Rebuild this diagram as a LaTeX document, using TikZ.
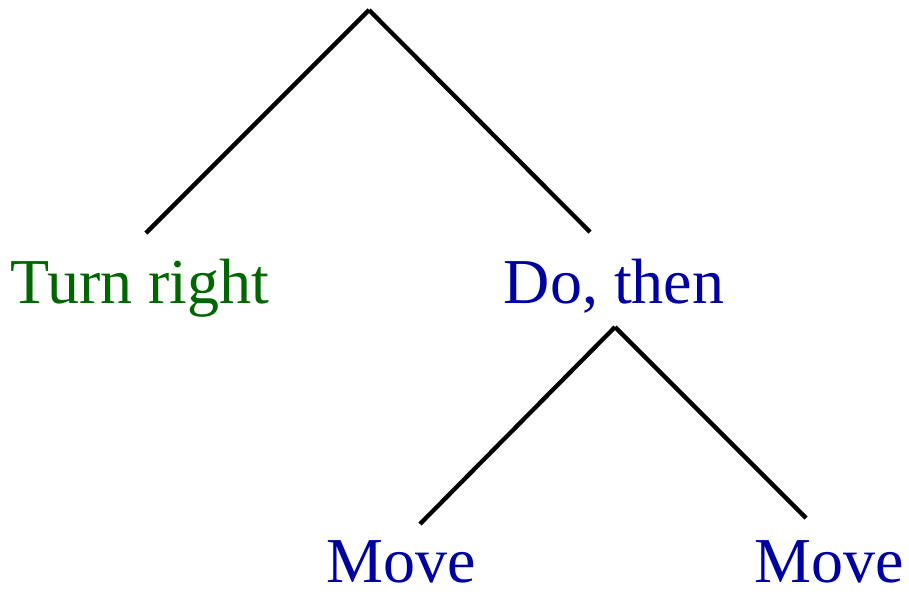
\documentclass[tikz,border=0pt]{standalone}
\usepackage{fontspec}
\setmainfont{Liberation Serif}
\definecolor{actgreen}{HTML}{006600}
\definecolor{ctlblue}{HTML}{0000A0}
\usetikzlibrary{calc}

\begin{document}
\begin{tikzpicture}[
  x=1pt, y=-1pt,
  font=\fontsize{64}{70}\selectfont,
  act/.style={text=actgreen, inner sep=0pt, anchor=base},
  ctl/.style={text=ctlblue, inner sep=0pt, anchor=base},
  edge/.style={draw=black, line width=4.3pt},
]
  \useasboundingbox (0,0) rectangle (909,597);
  \coordinate (root) at (369,10);
  \node[act] (turn) at (140,303) {Turn right};
  \node[ctl] (dothen) at (614,303) {Do, then};
  \node[ctl] (move1) at (401,582) {Move};
  \node[ctl] (move2) at (829,582) {Move};
  \draw[edge] (root) -- ($(turn.base)+(6,-70)$);
  \draw[edge] (root) -- ($(dothen.base)+(-24,-71)$);
  \draw[edge] ($(dothen.base)+(1,24)$) -- ($(move1.base)+(19,-58)$);
  \draw[edge] ($(dothen.base)+(1,24)$) -- ($(move2.base)+(-23,-64)$);
\end{tikzpicture}
\end{document}
